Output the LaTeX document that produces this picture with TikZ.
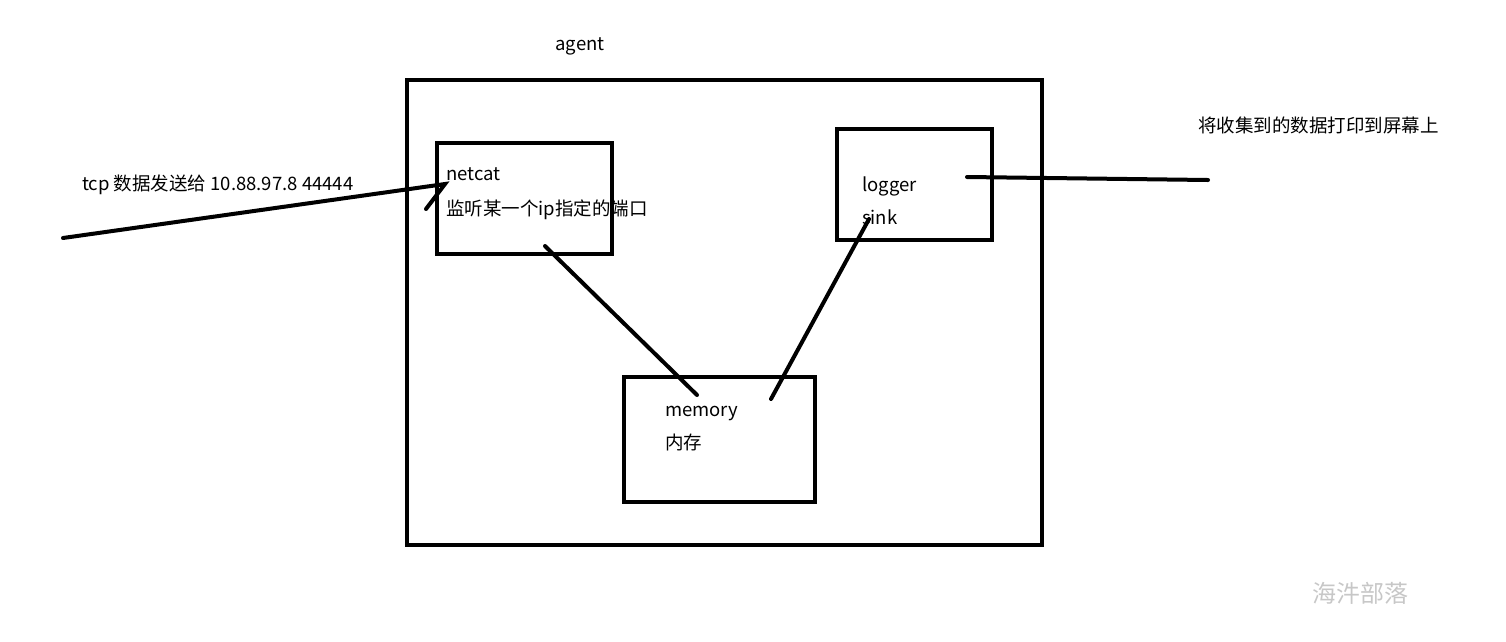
\documentclass[tikz,border=0pt]{standalone}
\usepackage{fontspec}
\setmainfont{Noto Sans CJK SC}
\begin{document}
\begin{tikzpicture}[x=1pt,y=-1pt,
  box/.style={draw=black,line width=4pt,inner sep=0pt,outer sep=0pt,anchor=north west},
  wire/.style={draw=black,line width=4pt,line cap=round},
  lbl/.style={anchor=base west,inner sep=0pt,font=\fontsize{18.5}{20}\selectfont},
]
\useasboundingbox (0,0) rectangle (1506,641);
% boxes
\node[box,minimum width=635pt,minimum height=465pt] (agentbox) at (407,80) {};
\node[box,minimum width=175pt,minimum height=111pt] (netcatbox) at (437,143) {};
\node[box,minimum width=155pt,minimum height=111pt] (loggerbox) at (837,129) {};
\node[box,minimum width=191pt,minimum height=125pt] (memorybox) at (624,377) {};
% texts
\node[lbl,anchor=base] (agent) at (580,50) {agent};
\node[lbl] (tcp) at (82,190) {tcp 数据发送给 10.88.97.8 44444};
\node[lbl] (netcat) at (446,180) {netcat};
\node[lbl] (listen) at (446,215) {监听某一个ip指定的端口};
\node[lbl] (logger) at (862,191) {logger};
\node[lbl] (sink) at (862,224) {sink};
\node[lbl] (memory) at (665,416) {memory};
\node[lbl] (mem) at (665,449) {内存};
\node[lbl] (print) at (1198,132) {将收集到的数据打印到屏幕上};
\node[anchor=base west,inner sep=0pt,text=black!22,font=\fontsize{24}{26}\selectfont] (mark) at (1312,602) {海汼部落};
% connectors
\coordinate (inS) at (63,238);
\coordinate (inE) at (445,184);
\coordinate (inH) at (426,209);
\coordinate (ncA) at (545,246);
\coordinate (memA) at (697,395);
\coordinate (memB) at (771,399);
\coordinate (lgA) at (869,219);
\coordinate (outS) at (967,177);
\coordinate (outE) at (1208,180);
\draw[wire] (inS) -- (inE) -- (inH);
\draw[wire] (ncA) -- (memA);
\draw[wire] (memB) -- (lgA);
\draw[wire] (outS) -- (outE);
\end{tikzpicture}
\end{document}
